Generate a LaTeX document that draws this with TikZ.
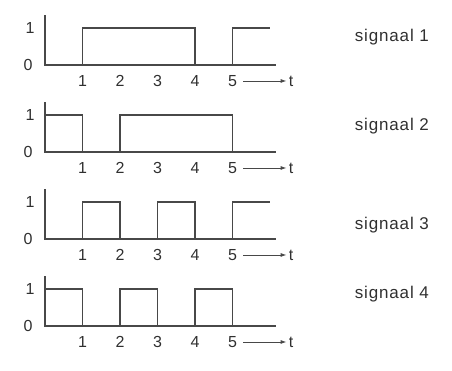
\documentclass[tikz,border=0pt]{standalone}
\usepackage{fontspec}
\setmainfont{Liberation Sans}
\usepackage{tikz}
\usetikzlibrary{arrows.meta}

\definecolor{inkgrey}{HTML}{484848}
\definecolor{textgrey}{HTML}{303030}

\tikzset{
  axis/.style={line width=1.1pt,draw=inkgrey},
  sig/.style={line width=1.1pt,draw=inkgrey,line join=miter},
  lvl/.style={text=textgrey,font=\fontsize{16}{18}\selectfont,inner sep=1pt},
  tick/.style={text=textgrey,font=\fontsize{16}{18}\selectfont,inner sep=2pt,yshift=-16pt},
  signame/.style={text=textgrey,font=\fontsize{17}{20}\selectfont\addfontfeature{LetterSpace=5}}
}

\begin{document}
\begin{tikzpicture}[x=37.5pt,y=37pt]
  \useasboundingbox (-45pt,-45pt) rectangle (407pt,326pt);

  % axes, labels and names of the four panels
  \foreach \p/\sh/\ly in {1/261/28, 2/174/26, 3/87/14, 4/0/32} {
    \begin{scope}[yshift=\sh pt]
      \draw[axis] (0,1.35) -- (0,0) -- (6.15,0);
      \node[lvl] (one\p) at (-15pt,1) {1};
      \node[lvl] (zero\p) at (-17pt,0) {0};
      \foreach \t in {1,...,5}
        \node[tick] (t\p\t) at (\t,0) {\t};
      \node[tick] (tt\p) at (6.56,0) {t};
      \draw[-{Latex[length=6pt,width=4pt]},line width=0.9pt,inkgrey,shorten <=4pt] (t\p5) -- (tt\p);
      \node[signame] (sig\p) at (9.25,\ly pt) {signaal \p};
    \end{scope}
  }

  % signaal 1
  \draw[sig,yshift=261pt] (0,0) -| (1,1) -| (4,0) -| (5,1) -- (6,1);
  % signaal 2
  \draw[sig,yshift=174pt] (0,1) -| (1,0) -| (2,1) -| (5,0) -- (6.15,0);
  % signaal 3
  \draw[sig,yshift=87pt] (0,0) -| (1,1) -| (2,0) -| (3,1) -| (4,0) -| (5,1) -- (6,1);
  % signaal 4
  \draw[sig] (0,1) -| (1,0) -| (2,1) -| (3,0) -| (4,1) -| (5,0) -- (6.15,0);
\end{tikzpicture}
\end{document}
